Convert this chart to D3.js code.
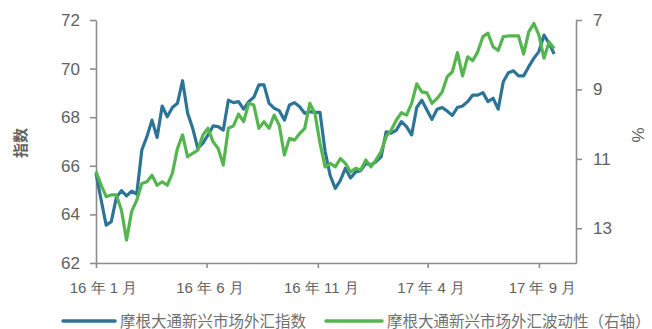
<!DOCTYPE html>
<html>
<head>
<meta charset="utf-8">
<script src="https://cdn.jsdelivr.net/npm/d3@7"></script>
<style>
  html, body { margin: 0; padding: 0; background: #fff; }
  svg { display: block; font-family: "Liberation Sans", Arial, "Noto Sans CJK SC", sans-serif; }
</style>
</head>
<body>
<svg id="chart" width="652" height="329"></svg>
<script>
// Weekly observations, starting 2016-01-01
const startDate = new Date(2016, 0, 1);

// J.P. Morgan EM currency index (left axis)
const fxIndex = [
  65.7, 64.6, 63.56, 63.7, 64.7, 64.98, 64.76, 64.96, 64.83, 66.65,
  67.2, 67.88, 67.17, 68.46, 68.02, 68.4, 68.57, 69.5, 68.16, 67.54,
  66.72, 66.93, 67.27, 67.64, 67.61, 67.47, 68.7, 68.6, 68.64, 68.33,
  68.64, 68.82, 69.33, 69.33, 68.57, 68.37, 68.27, 67.88, 68.5, 68.6,
  68.43, 68.16, 68.23, 68.2, 68.2, 66.6, 65.6, 65.07, 65.4, 65.9,
  65.5, 65.75, 65.8, 66.1, 66.03, 66.17, 66.37, 67.4, 67.34, 67.47,
  67.82, 67.61, 67.27, 68.4, 68.7, 68.3, 67.91, 68.33, 68.4, 68.25,
  68.07, 68.4, 68.46, 68.64, 68.91, 68.91, 69.01, 68.64, 68.78, 68.33,
  69.46, 69.83, 69.91, 69.7, 69.7, 70.08, 70.42, 70.7, 71.38, 71.04,
  70.6
];

// J.P. Morgan EM currency volatility, % (right axis)
const fxVol = [
  11.37, 11.75, 12.09, 12.04, 12.04, 12.48, 13.34, 12.52, 12.19, 11.71,
  11.66, 11.47, 11.76, 11.66, 11.76, 11.42, 10.7, 10.31, 10.94, 10.84,
  10.75, 10.31, 10.12, 10.51, 10.7, 11.18, 10.12, 10.05, 9.71, 9.93,
  9.4, 9.45, 10.12, 9.93, 10.12, 9.74, 10.03, 10.89, 10.41, 10.46,
  10.27, 10.12, 9.4, 9.69, 10.55, 11.23, 11.13, 11.23, 10.99, 11.13,
  11.38, 11.27, 11.32, 11.03, 11.23, 11.03, 10.79, 10.36, 10.17, 9.88,
  9.67, 9.74, 9.4, 8.84, 9.07, 9.1, 9.4, 9.26, 9.07, 8.63,
  8.49, 7.94, 8.61, 8.06, 8.17, 7.91, 7.48, 7.38, 7.77, 7.88,
  7.48, 7.46, 7.46, 7.46, 7.98, 7.34, 7.1, 7.43, 8.1, 7.63,
  7.82
];

const leftTicks = [62, 64, 66, 68, 70, 72];
const rightTicks = [7, 9, 11, 13];
const monthTicks = [
  new Date(2016, 0, 1), new Date(2016, 5, 1), new Date(2016, 10, 1),
  new Date(2017, 3, 1), new Date(2017, 8, 1)
];
const monthLabels = ["16 年 1 月", "16 年 6 月", "16 年 11 月", "17 年 4 月", "17 年 9 月"];

const seriesNames = ["摩根大通新兴市场外汇指数", "摩根大通新兴市场外汇波动性（右轴）"];
const colors = ["#2e7497", "#55b54f"];

const dates = fxIndex.map((_, i) => d3.timeDay.offset(startDate, i * 7));

const plot = { left: 96, right: 576, top: 20, bottom: 263 };
const svg = d3.select("#chart");

const x = d3.scaleTime()
  .domain([new Date(2016, 0, 1), new Date(2017, 9, 22)])
  .range([plot.left, plot.right]);
const yL = d3.scaleLinear().domain([62, 72]).range([plot.bottom, plot.top]);
const yR = d3.scaleLinear().domain([7, 14]).range([plot.top, plot.bottom]);

const axisColor = "#8c8c8c";
const textColor = "#616161";

// left axis
const gL = svg.append("g")
  .attr("transform", `translate(${plot.left},0)`)
  .call(d3.axisLeft(yL).tickValues(leftTicks).tickFormat(d3.format("d"))
    .tickSize(6).tickPadding(10).tickSizeOuter(0));
// right axis
const gR = svg.append("g")
  .attr("transform", `translate(${plot.right},0)`)
  .call(d3.axisRight(yR).tickValues(rightTicks).tickFormat(d3.format("d"))
    .tickSize(6).tickPadding(11).tickSizeOuter(0));
// bottom axis
const gB = svg.append("g")
  .attr("transform", `translate(0,${plot.bottom})`)
  .call(d3.axisBottom(x).tickValues(monthTicks).tickSize(5).tickSizeOuter(0)
    .tickFormat((d, i) => monthLabels[i]));

[gL, gR, gB].forEach(g => {
  g.select(".domain").attr("stroke", axisColor).attr("stroke-width", 1.6);
  g.selectAll(".tick line").attr("stroke", axisColor).attr("stroke-width", 1.6);
  g.selectAll("text").attr("fill", textColor).attr("font-family", null);
});
gL.selectAll("text").attr("font-size", 17);
gR.selectAll("text").attr("font-size", 17);
gB.selectAll("text").attr("font-size", 15).attr("dy", null).attr("y", 30)
  .attr("dx", (d, i) => i === 0 ? 7 : 3);

// axis titles
svg.append("text")
  .attr("transform", "translate(26,143) rotate(-90)")
  .attr("text-anchor", "middle")
  .attr("font-size", 15).attr("font-weight", "bold")
  .attr("fill", textColor)
  .text("指数");
svg.append("text")
  .attr("transform", "translate(644,135) rotate(-90)")
  .attr("text-anchor", "middle")
  .attr("font-size", 17)
  .attr("fill", textColor)
  .text("%");

// series lines
const lineL = d3.line().x((d, i) => x(dates[i])).y(d => yL(d));
const lineR = d3.line().x((d, i) => x(dates[i])).y(d => yR(d));

svg.append("path").datum(fxIndex)
  .attr("d", lineL).attr("fill", "none")
  .attr("stroke", colors[0]).attr("stroke-width", 3.2)
  .attr("stroke-linejoin", "round");
svg.append("path").datum(fxVol)
  .attr("d", lineR).attr("fill", "none")
  .attr("stroke", colors[1]).attr("stroke-width", 3.2)
  .attr("stroke-linejoin", "round");

// legend
const legendItems = [
  { x0: 63, x1: 115, tx: 120 },
  { x0: 326, x1: 382, tx: 387 }
];
legendItems.forEach((it, i) => {
  svg.append("line")
    .attr("x1", it.x0).attr("x2", it.x1).attr("y1", 321).attr("y2", 321)
    .attr("stroke", colors[i]).attr("stroke-width", 3.5).attr("stroke-linecap", "round");
  svg.append("text")
    .attr("x", it.tx).attr("y", 326.5)
    .attr("font-size", 15.5)
    .attr("font-family", "'Noto Sans CJK SC', sans-serif")
    .attr("fill", "#707070")
    .text(seriesNames[i]);
});
</script>
</body>
</html>
